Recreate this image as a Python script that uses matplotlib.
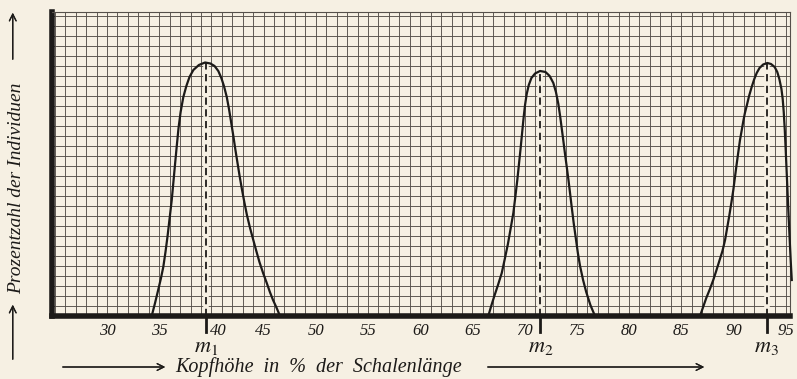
import matplotlib.pyplot as plt
import matplotlib.transforms as mtransforms
import numpy as np

plt.rcParams['mathtext.fontset'] = 'stix'

# curves read from the plate (x in %, y in grid units)
x1 = [34.28, 34.6, 34.9, 35.15, 35.39, 35.6, 35.8, 36.0, 36.2, 36.35, 36.5, 36.68, 36.85,
      37.05, 37.31, 37.6, 37.9, 38.27, 38.8, 39.39, 39.9, 40.3, 40.66, 40.95, 41.2, 41.47,
      41.7, 41.9, 42.1, 42.3, 42.5, 42.7, 42.9, 43.15, 43.4, 43.7, 44.01, 44.3, 44.6, 44.95,
      45.3, 45.6, 45.9, 46.25, 46.57]
y1 = [0, 1.3, 2.6, 3.7, 4.9, 6.4, 8.0, 9.8, 11.6, 13.3, 15.0, 17.0, 18.8,
      20.4, 21.9, 23.0, 23.9, 24.6, 25.1, 25.35, 25.25, 25.0, 24.5, 23.8, 23.0, 21.9,
      20.6, 19.3, 18.0, 16.6, 15.3, 14.0, 12.8, 11.4, 10.1, 8.8, 7.6, 6.5, 5.4, 4.3,
      3.3, 2.4, 1.6, 0.8, 0]

x2 = [66.52, 66.8, 67.1, 67.45, 67.81, 68.1, 68.4, 68.67, 68.92, 69.12, 69.3, 69.45, 69.6,
      69.75, 69.9, 70.04, 70.2, 70.4, 70.65, 71.0, 71.48, 72.0, 72.4, 72.75, 73.0, 73.23,
      73.4, 73.55, 73.7, 73.87, 74.05, 74.2, 74.35, 74.51, 74.7, 74.9, 75.1, 75.31, 75.6,
      75.9, 76.3, 76.74]
y2 = [0, 1.0, 2.0, 3.1, 4.3, 5.7, 7.2, 8.8, 10.3, 12.0, 13.6, 15.1, 16.6,
      18.2, 19.8, 21.1, 22.2, 23.1, 23.8, 24.25, 24.5, 24.4, 24.0, 23.3, 22.4, 21.2,
      20.0, 18.8, 17.6, 16.2, 14.8, 13.6, 12.3, 10.9, 9.3, 7.8, 6.3, 5.0, 3.6,
      2.4, 1.1, 0]

x3 = [86.8, 87.1, 87.4, 87.75, 88.07, 88.35, 88.65, 88.95, 89.2, 89.4, 89.6, 89.8, 89.99,
      90.15, 90.3, 90.47, 90.63, 90.8, 90.95, 91.1, 91.27, 91.5, 91.75, 92.0, 92.23, 92.5,
      92.85, 93.25, 93.6, 93.95, 94.2, 94.4, 94.6, 94.72, 94.82, 94.92, 95.0, 95.08, 95.16,
      95.24, 95.33, 95.42, 95.5, 95.59]
y3 = [0, 0.9, 1.8, 2.7, 3.6, 4.5, 5.5, 6.5, 7.6, 8.8, 10.0, 11.3, 12.6,
      13.9, 15.1, 16.4, 17.6, 18.6, 19.5, 20.3, 21.0, 22.0, 22.9, 23.7, 24.3, 24.8,
      25.15, 25.3, 25.2, 24.9, 24.4, 23.7, 22.7, 21.7, 20.4, 18.6, 16.8, 14.9, 13.0,
      11.0, 9.0, 7.0, 5.3, 3.6]

means = [39.45, 71.5, 93.2]
mean_peaks = [25.35, 24.5, 25.3]
mean_labels = [r'$m_1$', r'$m_2$', r'$m_3$']
tick_vals = [30, 35, 40, 45, 50, 55, 60, 65, 70, 75, 80, 85, 90, 95]

bg = '#f6f0e3'
ink = '#1c1a18'
grid_c = '#55504a'

fig = plt.figure(figsize=(7.97, 3.79), dpi=100, facecolor=bg)
ax = fig.add_axes([52 / 797, 1 - 316 / 379, 738 / 797, 304 / 379])
ax.set_facecolor(bg)
ax.set_xlim(24.73, 95.42)
ax.set_ylim(0, 30.4)

# graph paper
for gx in np.arange(25, 96, 1):
    ax.axvline(gx, color=grid_c, lw=0.65, zorder=1)
for gy in np.arange(1, 31, 1):
    ax.axhline(gy, color=grid_c, lw=0.65, zorder=1)

for m, pk in zip(means, mean_peaks):
    ax.plot([m, m], [0, pk], color=bg, lw=4, zorder=2, solid_capstyle='butt')
    ax.plot([m, m], [0, pk], color=ink, lw=1.3, ls=(0, (4, 2.5)), zorder=3)

ax.plot(x1, y1, color=ink, lw=1.6, zorder=4)
ax.plot(x2, y2, color=ink, lw=1.6, zorder=4)
ax.plot(x3, y3, color=ink, lw=1.6, zorder=4, clip_on=False)

for side in ['top', 'right']:
    ax.spines[side].set_linewidth(0.8)
    ax.spines[side].set_color(grid_c)
for side in ['left', 'bottom']:
    ax.spines[side].set_linewidth(4)
    ax.spines[side].set_color(ink)

ax.set_xticks(tick_vals)
ax.set_xticklabels([str(v) for v in tick_vals], fontstyle='italic',
                   family='Liberation Serif', fontsize=12, color=ink)
ax.tick_params(axis='x', length=0, pad=5)
ax.set_yticks([])

# the "40" sits just right of the m1 stroke on the plate
shift = mtransforms.ScaledTranslation(7 / 100, 0, fig.dpi_scale_trans)
for lbl in ax.get_xticklabels():
    if lbl.get_text() == '40':
        lbl.set_transform(lbl.get_transform() + shift)

# mean markers below the axis
for m, lab in zip(means, mean_labels):
    ax.plot([m, m], [0, -1.6], color=ink, lw=2, clip_on=False, zorder=5)
    ax.text(m, -2.1, lab, ha='center', va='top', fontsize=16, color=ink)

# axis captions with arrows
fig.text(319 / 797, 1 - 367 / 379, 'Kopfhöhe  in  %  der  Schalenlänge', ha='center', va='center',
         fontstyle='italic', family='Liberation Serif', fontsize=14.5, color=ink)
fig.text(0.021, 1 - 188 / 379, 'Prozentzahl der Individuen', rotation=90, ha='center',
         va='center', fontstyle='italic', family='Liberation Serif', fontsize=14, color=ink)

arrow = dict(arrowstyle='->', color=ink, lw=0.9, mutation_scale=12)
fig.add_artist(plt.annotate('', xy=(168 / 797, 1 - 367 / 379), xytext=(60 / 797, 1 - 367 / 379),
                            xycoords='figure fraction', arrowprops=arrow))
fig.add_artist(plt.annotate('', xy=(707 / 797, 1 - 367 / 379), xytext=(485 / 797, 1 - 367 / 379),
                            xycoords='figure fraction', arrowprops=arrow))
fig.add_artist(plt.annotate('', xy=(0.016, 1 - 302 / 379), xytext=(0.016, 1 - 362 / 379),
                            xycoords='figure fraction', arrowprops=arrow))
fig.add_artist(plt.annotate('', xy=(0.016, 1 - 10 / 379), xytext=(0.016, 1 - 62 / 379),
                            xycoords='figure fraction', arrowprops=arrow))

fig.savefig('out.png', dpi=100, facecolor=bg)
